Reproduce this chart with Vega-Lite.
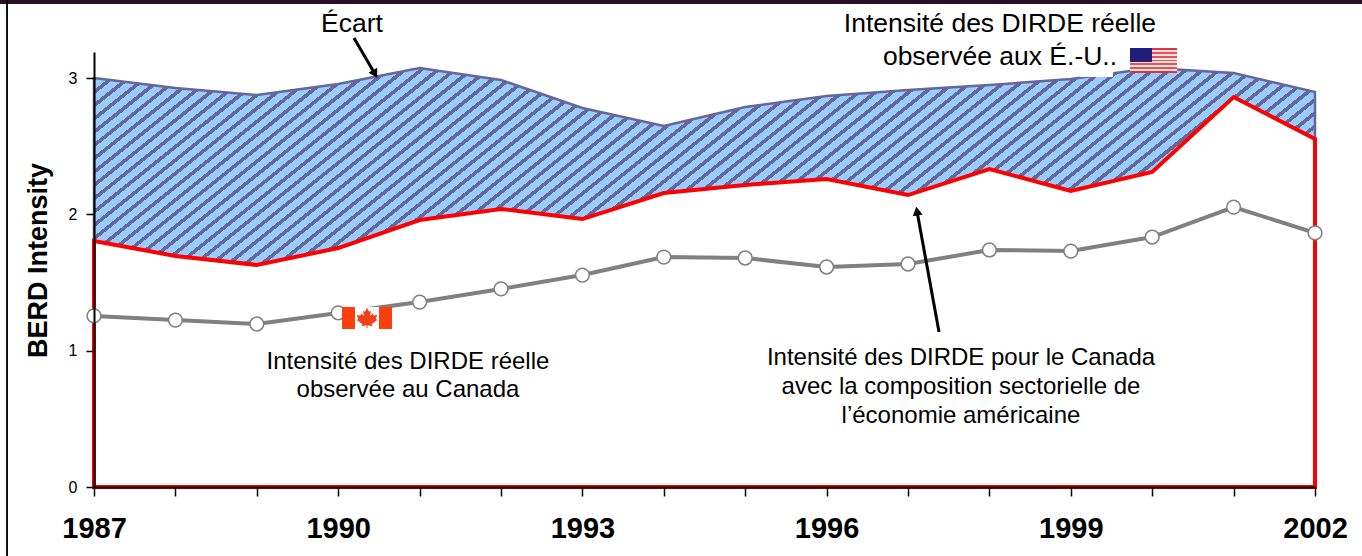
{"$schema":"https://vega.github.io/schema/vega-lite/v6.json","width":1221,"height":435,"autosize":"none","padding":{"left":94,"top":52,"right":47,"bottom":69},"background":"white","view":{"stroke":null},
"datasets":{"series":[
{"year":1987,"top":3.0,"mid":1.805,"canada":1.255},{"year":1988,"top":2.927,"mid":1.695,"canada":1.225},{"year":1989,"top":2.876,"mid":1.629,"canada":1.196},{"year":1990,"top":2.957,"mid":1.753,"canada":1.277},{"year":1991,"top":3.074,"mid":1.959,"canada":1.357},{"year":1992,"top":2.986,"mid":2.04,"canada":1.453},{"year":1993,"top":2.781,"mid":1.966,"canada":1.555},{"year":1994,"top":2.649,"mid":2.157,"canada":1.687},{"year":1995,"top":2.788,"mid":2.216,"canada":1.68},{"year":1996,"top":2.869,"mid":2.26,"canada":1.614},{"year":1997,"top":2.913,"mid":2.142,"canada":1.636},{"year":1998,"top":2.949,"mid":2.333,"canada":1.739},{"year":1999,"top":2.993,"mid":2.172,"canada":1.731},{"year":2000,"top":3.074,"mid":2.311,"canada":1.834},{"year":2001,"top":3.037,"mid":2.861,"canada":2.054},{"year":2002,"top":2.898,"mid":2.553,"canada":1.864}],
"labelsTop":[{"year":1990.17,"value":3.397,"text":"Écart"},{"year":1998.13,"value":3.397,"text":"Intensité des DIRDE réelle"},{"year":1998.13,"value":3.155,"text":"observée aux É.-U.."}],
"labelsLow":[{"year":1990.857,"value":0.917,"text":"Intensité des DIRDE réelle"},{"year":1990.857,"value":0.712,"text":"observée au Canada"},{"year":1997.651,"value":0.946,"text":"Intensité des DIRDE pour le Canada"},{"year":1997.651,"value":0.734,"text":"avec la composition sectorielle de"},{"year":1997.651,"value":0.521,"text":"l’économie américaine"}],
"arrowShafts":[{"year":1990.194,"value":3.294,"year2":1990.452,"value2":3.03},{"year":1997.381,"value":1.137,"year2":1997.11,"value2":2.025}]},
"encoding":{"x":{"field":"year","type":"quantitative","title":null,"scale":{"domain":[1987,2002],"nice":false,"zero":false},"axis":{"values":[1987,1988,1989,1990,1991,1992,1993,1994,1995,1996,1997,1998,1999,2000,2001,2002],"labelExpr":"(datum.value-1987)%3==0?format(datum.value,'d'):''","grid":false,"zindex":1,"domainColor":"#000","domainWidth":2,"tickColor":"#000","tickSize":9,"tickWidth":1.5,"labelFont":"Liberation Sans","labelFontWeight":"bold","labelFontSize":29,"labelColor":"#000","labelPadding":18,"labelOverlap":false,"labelFlush":false}},
"y":{"field":"value","type":"quantitative","title":"BERD Intensity","scale":{"domain":[0,3.1915],"nice":false,"zero":false},"axis":{"values":[0,1,2,3],"format":"d","grid":false,"zindex":1,"domainColor":"#000","domainWidth":2,"tickColor":"#000","tickSize":8,"tickWidth":1.5,"labelFont":"Liberation Sans","labelFontSize":16,"labelColor":"#000","labelPadding":9,"titleFont":"Liberation Sans","titleFontWeight":"bold","titleFontSize":27,"titleColor":"#000","titleX":-56,"titleY":208,"titleBaseline":"middle"}}},
"layer":[
{"data":{"values":[{"year":1985.845,"value":3.544,"year2":2002.58,"value2":3.573}]},"mark":{"type":"rect","fill":"#2b0f26","clip":false},"encoding":{"x2":{"field":"year2"},"y2":{"field":"value2"}}},
{"data":{"values":[{"year":1985.92,"value":3.573,"year2":1985.943,"value2":-0.506}]},"mark":{"type":"rect","fill":"#000","clip":false},"encoding":{"x2":{"field":"year2"},"y2":{"field":"value2"}}},
{"data":{"name":"series"},"mark":{"type":"area","stroke":"#666699","strokeWidth":2.5,"fill":{"gradient":"linear","x1":0,"y1":0,"x2":1.3084,"y2":0.2639,"stops":[
{"offset":0,"color":"#9cf"},{"offset":0.0065,"color":"#9cf"},{"offset":0.0065,"color":"#669"},{"offset":0.01,"color":"#669"},{"offset":0.01,"color":"#9cf"},{"offset":0.0165,"color":"#9cf"},{"offset":0.0165,"color":"#669"},{"offset":0.02,"color":"#669"},{"offset":0.02,"color":"#9cf"},{"offset":0.0265,"color":"#9cf"},{"offset":0.0265,"color":"#669"},{"offset":0.03,"color":"#669"},{"offset":0.03,"color":"#9cf"},{"offset":0.0365,"color":"#9cf"},{"offset":0.0365,"color":"#669"},{"offset":0.04,"color":"#669"},{"offset":0.04,"color":"#9cf"},{"offset":0.0465,"color":"#9cf"},{"offset":0.0465,"color":"#669"},{"offset":0.05,"color":"#669"},{"offset":0.05,"color":"#9cf"},{"offset":0.0565,"color":"#9cf"},{"offset":0.0565,"color":"#669"},{"offset":0.06,"color":"#669"},{"offset":0.06,"color":"#9cf"},{"offset":0.0665,"color":"#9cf"},{"offset":0.0665,"color":"#669"},{"offset":0.07,"color":"#669"},{"offset":0.07,"color":"#9cf"},{"offset":0.0765,"color":"#9cf"},{"offset":0.0765,"color":"#669"},{"offset":0.08,"color":"#669"},{"offset":0.08,"color":"#9cf"},{"offset":0.0865,"color":"#9cf"},{"offset":0.0865,"color":"#669"},{"offset":0.09,"color":"#669"},{"offset":0.09,"color":"#9cf"},{"offset":0.0965,"color":"#9cf"},{"offset":0.0965,"color":"#669"},{"offset":0.1,"color":"#669"},
{"offset":0.1,"color":"#9cf"},{"offset":0.1065,"color":"#9cf"},{"offset":0.1065,"color":"#669"},{"offset":0.11,"color":"#669"},{"offset":0.11,"color":"#9cf"},{"offset":0.1165,"color":"#9cf"},{"offset":0.1165,"color":"#669"},{"offset":0.12,"color":"#669"},{"offset":0.12,"color":"#9cf"},{"offset":0.1265,"color":"#9cf"},{"offset":0.1265,"color":"#669"},{"offset":0.13,"color":"#669"},{"offset":0.13,"color":"#9cf"},{"offset":0.1365,"color":"#9cf"},{"offset":0.1365,"color":"#669"},{"offset":0.14,"color":"#669"},{"offset":0.14,"color":"#9cf"},{"offset":0.1465,"color":"#9cf"},{"offset":0.1465,"color":"#669"},{"offset":0.15,"color":"#669"},{"offset":0.15,"color":"#9cf"},{"offset":0.1565,"color":"#9cf"},{"offset":0.1565,"color":"#669"},{"offset":0.16,"color":"#669"},{"offset":0.16,"color":"#9cf"},{"offset":0.1665,"color":"#9cf"},{"offset":0.1665,"color":"#669"},{"offset":0.17,"color":"#669"},{"offset":0.17,"color":"#9cf"},{"offset":0.1765,"color":"#9cf"},{"offset":0.1765,"color":"#669"},{"offset":0.18,"color":"#669"},{"offset":0.18,"color":"#9cf"},{"offset":0.1865,"color":"#9cf"},{"offset":0.1865,"color":"#669"},{"offset":0.19,"color":"#669"},{"offset":0.19,"color":"#9cf"},{"offset":0.1965,"color":"#9cf"},{"offset":0.1965,"color":"#669"},{"offset":0.2,"color":"#669"},
{"offset":0.2,"color":"#9cf"},{"offset":0.2065,"color":"#9cf"},{"offset":0.2065,"color":"#669"},{"offset":0.21,"color":"#669"},{"offset":0.21,"color":"#9cf"},{"offset":0.2165,"color":"#9cf"},{"offset":0.2165,"color":"#669"},{"offset":0.22,"color":"#669"},{"offset":0.22,"color":"#9cf"},{"offset":0.2265,"color":"#9cf"},{"offset":0.2265,"color":"#669"},{"offset":0.23,"color":"#669"},{"offset":0.23,"color":"#9cf"},{"offset":0.2365,"color":"#9cf"},{"offset":0.2365,"color":"#669"},{"offset":0.24,"color":"#669"},{"offset":0.24,"color":"#9cf"},{"offset":0.2465,"color":"#9cf"},{"offset":0.2465,"color":"#669"},{"offset":0.25,"color":"#669"},{"offset":0.25,"color":"#9cf"},{"offset":0.2565,"color":"#9cf"},{"offset":0.2565,"color":"#669"},{"offset":0.26,"color":"#669"},{"offset":0.26,"color":"#9cf"},{"offset":0.2665,"color":"#9cf"},{"offset":0.2665,"color":"#669"},{"offset":0.27,"color":"#669"},{"offset":0.27,"color":"#9cf"},{"offset":0.2765,"color":"#9cf"},{"offset":0.2765,"color":"#669"},{"offset":0.28,"color":"#669"},{"offset":0.28,"color":"#9cf"},{"offset":0.2865,"color":"#9cf"},{"offset":0.2865,"color":"#669"},{"offset":0.29,"color":"#669"},{"offset":0.29,"color":"#9cf"},{"offset":0.2965,"color":"#9cf"},{"offset":0.2965,"color":"#669"},{"offset":0.3,"color":"#669"},
{"offset":0.3,"color":"#9cf"},{"offset":0.3065,"color":"#9cf"},{"offset":0.3065,"color":"#669"},{"offset":0.31,"color":"#669"},{"offset":0.31,"color":"#9cf"},{"offset":0.3165,"color":"#9cf"},{"offset":0.3165,"color":"#669"},{"offset":0.32,"color":"#669"},{"offset":0.32,"color":"#9cf"},{"offset":0.3265,"color":"#9cf"},{"offset":0.3265,"color":"#669"},{"offset":0.33,"color":"#669"},{"offset":0.33,"color":"#9cf"},{"offset":0.3365,"color":"#9cf"},{"offset":0.3365,"color":"#669"},{"offset":0.34,"color":"#669"},{"offset":0.34,"color":"#9cf"},{"offset":0.3465,"color":"#9cf"},{"offset":0.3465,"color":"#669"},{"offset":0.35,"color":"#669"},{"offset":0.35,"color":"#9cf"},{"offset":0.3565,"color":"#9cf"},{"offset":0.3565,"color":"#669"},{"offset":0.36,"color":"#669"},{"offset":0.36,"color":"#9cf"},{"offset":0.3665,"color":"#9cf"},{"offset":0.3665,"color":"#669"},{"offset":0.37,"color":"#669"},{"offset":0.37,"color":"#9cf"},{"offset":0.3765,"color":"#9cf"},{"offset":0.3765,"color":"#669"},{"offset":0.38,"color":"#669"},{"offset":0.38,"color":"#9cf"},{"offset":0.3865,"color":"#9cf"},{"offset":0.3865,"color":"#669"},{"offset":0.39,"color":"#669"},{"offset":0.39,"color":"#9cf"},{"offset":0.3965,"color":"#9cf"},{"offset":0.3965,"color":"#669"},{"offset":0.4,"color":"#669"},
{"offset":0.4,"color":"#9cf"},{"offset":0.4065,"color":"#9cf"},{"offset":0.4065,"color":"#669"},{"offset":0.41,"color":"#669"},{"offset":0.41,"color":"#9cf"},{"offset":0.4165,"color":"#9cf"},{"offset":0.4165,"color":"#669"},{"offset":0.42,"color":"#669"},{"offset":0.42,"color":"#9cf"},{"offset":0.4265,"color":"#9cf"},{"offset":0.4265,"color":"#669"},{"offset":0.43,"color":"#669"},{"offset":0.43,"color":"#9cf"},{"offset":0.4365,"color":"#9cf"},{"offset":0.4365,"color":"#669"},{"offset":0.44,"color":"#669"},{"offset":0.44,"color":"#9cf"},{"offset":0.4465,"color":"#9cf"},{"offset":0.4465,"color":"#669"},{"offset":0.45,"color":"#669"},{"offset":0.45,"color":"#9cf"},{"offset":0.4565,"color":"#9cf"},{"offset":0.4565,"color":"#669"},{"offset":0.46,"color":"#669"},{"offset":0.46,"color":"#9cf"},{"offset":0.4665,"color":"#9cf"},{"offset":0.4665,"color":"#669"},{"offset":0.47,"color":"#669"},{"offset":0.47,"color":"#9cf"},{"offset":0.4765,"color":"#9cf"},{"offset":0.4765,"color":"#669"},{"offset":0.48,"color":"#669"},{"offset":0.48,"color":"#9cf"},{"offset":0.4865,"color":"#9cf"},{"offset":0.4865,"color":"#669"},{"offset":0.49,"color":"#669"},{"offset":0.49,"color":"#9cf"},{"offset":0.4965,"color":"#9cf"},{"offset":0.4965,"color":"#669"},{"offset":0.5,"color":"#669"},
{"offset":0.5,"color":"#9cf"},{"offset":0.5065,"color":"#9cf"},{"offset":0.5065,"color":"#669"},{"offset":0.51,"color":"#669"},{"offset":0.51,"color":"#9cf"},{"offset":0.5165,"color":"#9cf"},{"offset":0.5165,"color":"#669"},{"offset":0.52,"color":"#669"},{"offset":0.52,"color":"#9cf"},{"offset":0.5265,"color":"#9cf"},{"offset":0.5265,"color":"#669"},{"offset":0.53,"color":"#669"},{"offset":0.53,"color":"#9cf"},{"offset":0.5365,"color":"#9cf"},{"offset":0.5365,"color":"#669"},{"offset":0.54,"color":"#669"},{"offset":0.54,"color":"#9cf"},{"offset":0.5465,"color":"#9cf"},{"offset":0.5465,"color":"#669"},{"offset":0.55,"color":"#669"},{"offset":0.55,"color":"#9cf"},{"offset":0.5565,"color":"#9cf"},{"offset":0.5565,"color":"#669"},{"offset":0.56,"color":"#669"},{"offset":0.56,"color":"#9cf"},{"offset":0.5665,"color":"#9cf"},{"offset":0.5665,"color":"#669"},{"offset":0.57,"color":"#669"},{"offset":0.57,"color":"#9cf"},{"offset":0.5765,"color":"#9cf"},{"offset":0.5765,"color":"#669"},{"offset":0.58,"color":"#669"},{"offset":0.58,"color":"#9cf"},{"offset":0.5865,"color":"#9cf"},{"offset":0.5865,"color":"#669"},{"offset":0.59,"color":"#669"},{"offset":0.59,"color":"#9cf"},{"offset":0.5965,"color":"#9cf"},{"offset":0.5965,"color":"#669"},{"offset":0.6,"color":"#669"},
{"offset":0.6,"color":"#9cf"},{"offset":0.6065,"color":"#9cf"},{"offset":0.6065,"color":"#669"},{"offset":0.61,"color":"#669"},{"offset":0.61,"color":"#9cf"},{"offset":0.6165,"color":"#9cf"},{"offset":0.6165,"color":"#669"},{"offset":0.62,"color":"#669"},{"offset":0.62,"color":"#9cf"},{"offset":0.6265,"color":"#9cf"},{"offset":0.6265,"color":"#669"},{"offset":0.63,"color":"#669"},{"offset":0.63,"color":"#9cf"},{"offset":0.6365,"color":"#9cf"},{"offset":0.6365,"color":"#669"},{"offset":0.64,"color":"#669"},{"offset":0.64,"color":"#9cf"},{"offset":0.6465,"color":"#9cf"},{"offset":0.6465,"color":"#669"},{"offset":0.65,"color":"#669"},{"offset":0.65,"color":"#9cf"},{"offset":0.6565,"color":"#9cf"},{"offset":0.6565,"color":"#669"},{"offset":0.66,"color":"#669"},{"offset":0.66,"color":"#9cf"},{"offset":0.6665,"color":"#9cf"},{"offset":0.6665,"color":"#669"},{"offset":0.67,"color":"#669"},{"offset":0.67,"color":"#9cf"},{"offset":0.6765,"color":"#9cf"},{"offset":0.6765,"color":"#669"},{"offset":0.68,"color":"#669"},{"offset":0.68,"color":"#9cf"},{"offset":0.6865,"color":"#9cf"},{"offset":0.6865,"color":"#669"},{"offset":0.69,"color":"#669"},{"offset":0.69,"color":"#9cf"},{"offset":0.6965,"color":"#9cf"},{"offset":0.6965,"color":"#669"},{"offset":0.7,"color":"#669"},
{"offset":0.7,"color":"#9cf"},{"offset":0.7065,"color":"#9cf"},{"offset":0.7065,"color":"#669"},{"offset":0.71,"color":"#669"},{"offset":0.71,"color":"#9cf"},{"offset":0.7165,"color":"#9cf"},{"offset":0.7165,"color":"#669"},{"offset":0.72,"color":"#669"},{"offset":0.72,"color":"#9cf"},{"offset":0.7265,"color":"#9cf"},{"offset":0.7265,"color":"#669"},{"offset":0.73,"color":"#669"},{"offset":0.73,"color":"#9cf"},{"offset":0.7365,"color":"#9cf"},{"offset":0.7365,"color":"#669"},{"offset":0.74,"color":"#669"},{"offset":0.74,"color":"#9cf"},{"offset":0.7465,"color":"#9cf"},{"offset":0.7465,"color":"#669"},{"offset":0.75,"color":"#669"},{"offset":0.75,"color":"#9cf"},{"offset":0.7565,"color":"#9cf"},{"offset":0.7565,"color":"#669"},{"offset":0.76,"color":"#669"},{"offset":0.76,"color":"#9cf"},{"offset":0.7665,"color":"#9cf"},{"offset":0.7665,"color":"#669"},{"offset":0.77,"color":"#669"},{"offset":0.77,"color":"#9cf"},{"offset":0.7765,"color":"#9cf"},{"offset":0.7765,"color":"#669"},{"offset":0.78,"color":"#669"},{"offset":0.78,"color":"#9cf"},{"offset":0.7865,"color":"#9cf"},{"offset":0.7865,"color":"#669"},{"offset":0.79,"color":"#669"},{"offset":0.79,"color":"#9cf"},{"offset":0.7965,"color":"#9cf"},{"offset":0.7965,"color":"#669"},{"offset":0.8,"color":"#669"},
{"offset":0.8,"color":"#9cf"},{"offset":0.8065,"color":"#9cf"},{"offset":0.8065,"color":"#669"},{"offset":0.81,"color":"#669"},{"offset":0.81,"color":"#9cf"},{"offset":0.8165,"color":"#9cf"},{"offset":0.8165,"color":"#669"},{"offset":0.82,"color":"#669"},{"offset":0.82,"color":"#9cf"},{"offset":0.8265,"color":"#9cf"},{"offset":0.8265,"color":"#669"},{"offset":0.83,"color":"#669"},{"offset":0.83,"color":"#9cf"},{"offset":0.8365,"color":"#9cf"},{"offset":0.8365,"color":"#669"},{"offset":0.84,"color":"#669"},{"offset":0.84,"color":"#9cf"},{"offset":0.8465,"color":"#9cf"},{"offset":0.8465,"color":"#669"},{"offset":0.85,"color":"#669"},{"offset":0.85,"color":"#9cf"},{"offset":0.8565,"color":"#9cf"},{"offset":0.8565,"color":"#669"},{"offset":0.86,"color":"#669"},{"offset":0.86,"color":"#9cf"},{"offset":0.8665,"color":"#9cf"},{"offset":0.8665,"color":"#669"},{"offset":0.87,"color":"#669"},{"offset":0.87,"color":"#9cf"},{"offset":0.8765,"color":"#9cf"},{"offset":0.8765,"color":"#669"},{"offset":0.88,"color":"#669"},{"offset":0.88,"color":"#9cf"},{"offset":0.8865,"color":"#9cf"},{"offset":0.8865,"color":"#669"},{"offset":0.89,"color":"#669"},{"offset":0.89,"color":"#9cf"},{"offset":1,"color":"#9cf"}]}},"encoding":{"y":{"field":"top","type":"quantitative"},"y2":{"field":"mid"}}},
{"data":{"values":[{"year":1999.11,"value":3.008,"year2":1999.518,"value2":3.25}]},"mark":{"type":"rect","fill":"white","clip":false},"encoding":{"x2":{"field":"year2"},"y2":{"field":"value2"}}},
{"data":{"name":"series"},"mark":{"type":"area","fill":"transparent","stroke":"#ff0000","strokeWidth":4,"strokeJoin":"miter"},"encoding":{"y":{"field":"mid","type":"quantitative"},"y2":{"datum":0}}},
{"data":{"name":"series"},"mark":{"type":"line","stroke":"#808080","strokeWidth":4},"encoding":{"y":{"field":"canada","type":"quantitative"}}},
{"data":{"name":"series"},"mark":{"type":"point","shape":"circle","filled":true,"fill":"white","stroke":"#808080","strokeWidth":1.5,"opacity":1,"size":190},"encoding":{"y":{"field":"canada","type":"quantitative"}}},
{"data":{"values":[{"year":1990.047,"value":1.321,"year2":1990.661,"value2":1.159}]},"mark":{"type":"rect","fill":{"gradient":"linear","x1":0,"y1":0,"x2":1,"y2":0,"stops":[{"offset":0,"color":"#ff3d0d"},{"offset":0.26,"color":"#ff3d0d"},{"offset":0.26,"color":"#ffffff"},{"offset":0.74,"color":"#ffffff"},{"offset":0.74,"color":"#ff3d0d"},{"offset":1,"color":"#ff3d0d"}]}},"encoding":{"x2":{"field":"year2"},"y2":{"field":"value2"}}},
{"data":{"values":[{"year":1990.354,"value":1.24}]},"mark":{"type":"point","filled":true,"fill":"#f0401a","opacity":1,"size":420,"shape":"M0,-1 L0.2,-0.6 L0.4,-0.7 L0.3,-0.2 L0.55,-0.45 L0.65,-0.25 L1,-0.3 L0.85,0.1 L1,0.2 L0.45,0.6 L0.5,0.8 L0.05,0.7 L0.05,1 L-0.05,1 L-0.05,0.7 L-0.5,0.8 L-0.45,0.6 L-1,0.2 L-0.85,0.1 L-1,-0.3 L-0.65,-0.25 L-0.55,-0.45 L-0.3,-0.2 L-0.4,-0.7 L-0.2,-0.6 Z"}},
{"data":{"values":[{"year":1999.727,"value":3.221,"year2":2000.305,"value2":3.037}]},"mark":{"type":"rect","clip":false,"fill":{"gradient":"linear","x1":0,"y1":0,"x2":0,"y2":1,"stops":[{"offset":0,"color":"#e8303a"},{"offset":0.077,"color":"#e8303a"},{"offset":0.077,"color":"#f6e4e0"},{"offset":0.154,"color":"#f6e4e0"},{"offset":0.154,"color":"#e8505a"},{"offset":0.231,"color":"#e8505a"},{"offset":0.231,"color":"#f6e4e0"},{"offset":0.308,"color":"#f6e4e0"},{"offset":0.308,"color":"#e8505a"},{"offset":0.385,"color":"#e8505a"},{"offset":0.385,"color":"#f6e4e0"},{"offset":0.462,"color":"#f6e4e0"},{"offset":0.462,"color":"#e8505a"},{"offset":0.538,"color":"#e8505a"},{"offset":0.538,"color":"#f6e4e0"},{"offset":0.615,"color":"#f6e4e0"},{"offset":0.615,"color":"#e8505a"},{"offset":0.692,"color":"#e8505a"},{"offset":0.692,"color":"#f6e4e0"},{"offset":0.769,"color":"#f6e4e0"},{"offset":0.769,"color":"#e8505a"},{"offset":0.846,"color":"#e8505a"},{"offset":0.846,"color":"#f6e4e0"},{"offset":0.923,"color":"#f6e4e0"},{"offset":0.923,"color":"#e8303a"},{"offset":1,"color":"#e8303a"}]}},"encoding":{"x2":{"field":"year2"},"y2":{"field":"value2"}}},
{"data":{"values":[{"year":1999.727,"value":3.221,"year2":1999.998,"value2":3.118}]},"mark":{"type":"rect","fill":"#1f1f7a","clip":false},"encoding":{"x2":{"field":"year2"},"y2":{"field":"value2"}}},
{"data":{"name":"arrowShafts"},"mark":{"type":"rule","stroke":"#000","strokeWidth":3,"clip":false},"encoding":{"x2":{"field":"year2"},"y2":{"field":"value2"}}},
{"data":{"values":[{"year":1990.452,"value":3.03}]},"mark":{"type":"point","shape":"triangle-up","filled":true,"fill":"#000","opacity":1,"angle":150,"size":100}},
{"data":{"values":[{"year":1997.11,"value":2.025}]},"mark":{"type":"point","shape":"triangle-up","filled":true,"fill":"#000","opacity":1,"angle":-10,"size":100}},
{"data":{"name":"labelsTop"},"mark":{"type":"text","font":"Liberation Sans","fontSize":26.5,"fill":"#000","align":"center","baseline":"middle","clip":false},"encoding":{"text":{"field":"text"}}},
{"data":{"name":"labelsLow"},"mark":{"type":"text","font":"Liberation Sans","fontSize":24,"fill":"#000","align":"center","baseline":"middle","clip":false},"encoding":{"text":{"field":"text"}}}
]}
